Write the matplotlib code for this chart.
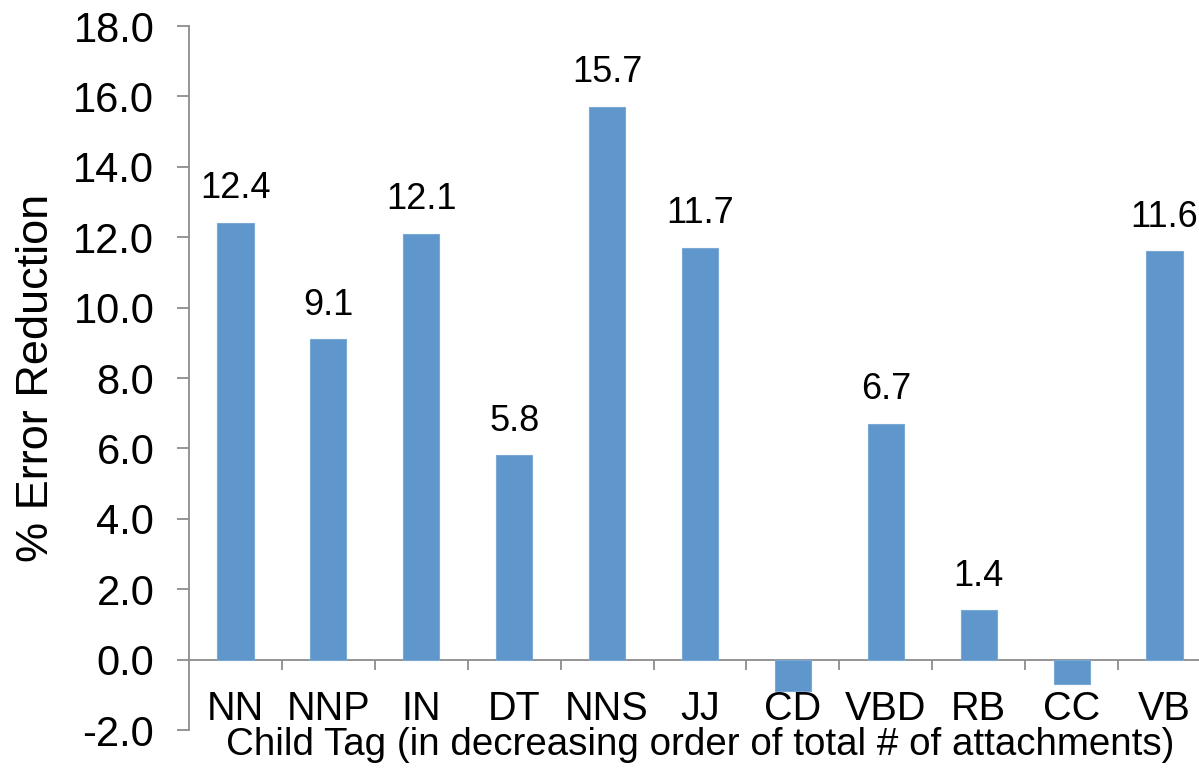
import matplotlib
matplotlib.use("Agg")
import matplotlib.pyplot as plt
import numpy as np

plt.rcParams['font.family'] = ['Liberation Sans', 'DejaVu Sans']

# Per-tag error reduction
tags = ["NN", "NNP", "IN", "DT", "NNS", "JJ", "CD", "VBD", "RB", "CC", "VB"]
reduction = [12.4, 9.1, 12.1, 5.8, 15.7, 11.7, -0.9, 6.7, 1.4, -0.7, 11.6]
y_ticks = [-2.0, 0.0, 2.0, 4.0, 6.0, 8.0, 10.0, 12.0, 14.0, 16.0, 18.0]

bar_color = "#5f96cb"
axis_color = "#8c8c8c"

fig = plt.figure(figsize=(11.99, 7.82), dpi=100)
W, H = 1199, 782
ax = fig.add_axes([189 / W, 52 / H, 1022 / W, 704 / H])

x = np.arange(len(tags))
ax.bar(x, reduction, width=0.39, color=bar_color, edgecolor="#7aa9d6",
       linewidth=0.8, zorder=3)

ax.set_xlim(-0.5, len(tags) - 0.5)
ax.set_ylim(min(y_ticks), max(y_ticks))
ax.set_yticks(y_ticks)
ax.set_yticklabels([f"{t:.1f}" for t in y_ticks], fontsize=30)
ax.tick_params(axis="y", direction="out", length=9, width=1.3,
               color=axis_color, pad=16)
ax.set_xticks([])

for side in ("top", "right", "bottom"):
    ax.spines[side].set_visible(False)
ax.spines["left"].set_color(axis_color)
ax.spines["left"].set_linewidth(1.3)

# Category axis drawn along zero with boundary ticks
ax.axhline(0, color=axis_color, linewidth=1.3, zorder=2)
ax.vlines(np.arange(len(tags)) + 0.5, -0.3, 0, color=axis_color,
          linewidth=1.3, zorder=2)

for xi, tag in zip(x, tags):
    ax.text(xi, -1.4, tag, ha="center", va="center", fontsize=28.5)

for xi, v in zip(x, reduction):
    if v > 0:
        ax.annotate(f"{v:.1f}", (xi, v), xytext=(0, 12),
                    textcoords="offset points", ha="center", va="bottom",
                    fontsize=26)

fig.text(700 / W, 27 / H,
         "Child Tag (in decreasing order of total # of attachments)",
         ha="center", va="baseline", fontsize=27.7)
fig.text(37 / W, 1 - 378 / H, "% Error Reduction", rotation=90,
         ha="center", va="center", fontsize=32.5)

fig.savefig("out.png", dpi=100)
